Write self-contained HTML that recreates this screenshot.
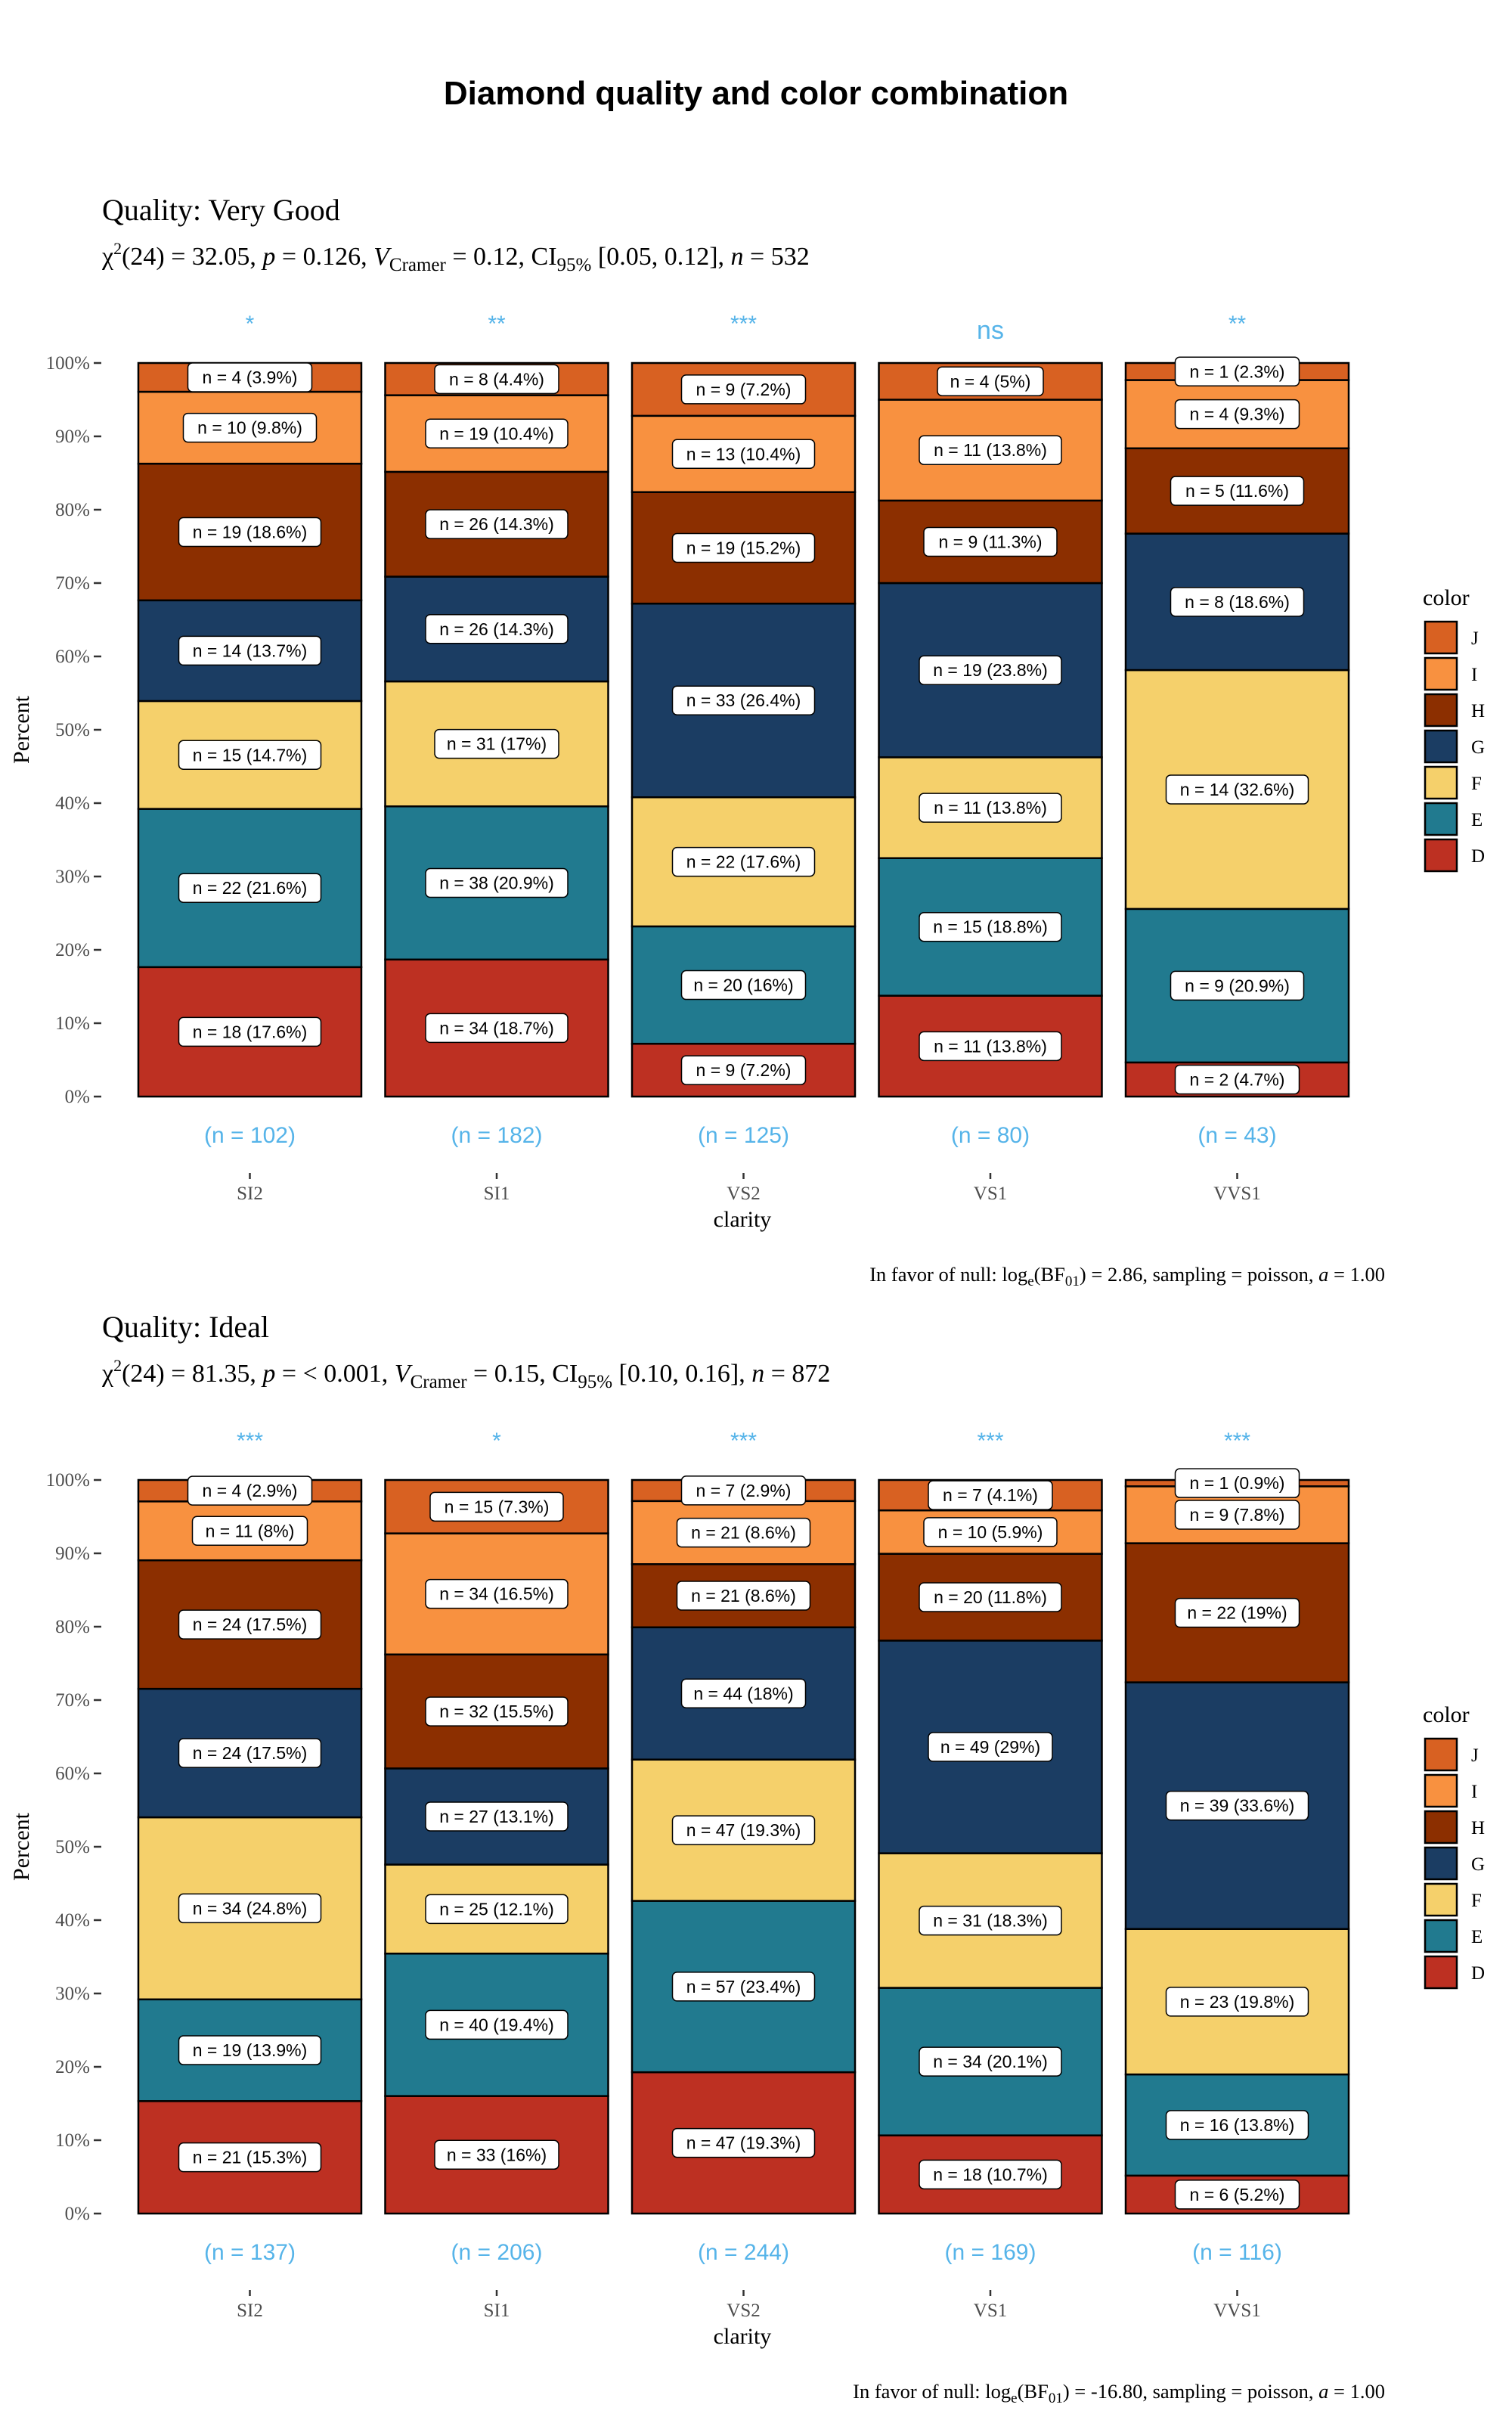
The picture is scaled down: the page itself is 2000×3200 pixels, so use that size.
<!DOCTYPE html>
<html><head><meta charset="utf-8">
<style>
html,body{margin:0;padding:0;background:#fff;}
svg{display:block;}
</style></head>
<body>
<svg id="chart" width="2000" height="3200" viewBox="0 0 2000 3200" xmlns="http://www.w3.org/2000/svg">
<text x="1000" y="138" text-anchor="middle" font-family="Liberation Sans, sans-serif" font-weight="bold" font-size="44">Diamond quality and color combination</text>
</svg>
<script>
// ---- data ----
const categories = ["SI2","SI1","VS2","VS1","VVS1"];
const colorLevels = ["D","E","F","G","H","I","J"]; // bottom to top
const fills = {J:"#d86122",I:"#f89140",H:"#8c2f00",G:"#1b3d63",F:"#f5d06b",E:"#217a8f",D:"#bd3022"};
// counts per clarity, order D,E,F,G,H,I,J
const vgD = [18,34,9,11,2];
const vgE = [22,38,20,15,9];
const vgF = [15,31,22,11,14];
const vgG = [14,26,33,19,8];
const vgH = [19,26,19,9,5];
const vgI = [10,19,13,11,4];
const vgJ = [4,8,9,4,1];
const idD = [21,33,47,18,6];
const idE = [19,40,57,34,16];
const idF = [34,25,47,31,23];
const idG = [24,27,44,49,39];
const idH = [24,32,21,20,22];
const idI = [11,34,21,10,9];
const idJ = [4,15,7,7,1];
const vgStars = ["*","**","***","ns","**"];
const idStars = ["***","*","***","***","***"];
const yTicks = [0,10,20,30,40,50,60,70,80,90,100];

const panels = [
  {name:"very-good", off:0, title:"Quality: Very Good", series:[vgD,vgE,vgF,vgG,vgH,vgI,vgJ], stars:vgStars,
   chi:"32.05", p:"0.126", v:"0.12", ci:"[0.05, 0.12]", n:"532", bf:"2.86"},
  {name:"ideal", off:1477, title:"Quality: Ideal", series:[idD,idE,idF,idG,idH,idI,idJ], stars:idStars,
   chi:"81.35", p:"< 0.001", v:"0.15", ci:"[0.10, 0.16]", n:"872", bf:"-16.80"}
];

const NS = "http://www.w3.org/2000/svg";
const svg = document.getElementById("chart");
function mk(tag, attrs, parent, text){
  const e = document.createElementNS(NS, tag);
  for (const k in attrs) e.setAttribute(k, attrs[k]);
  if (text !== undefined) e.textContent = text;
  (parent||svg).appendChild(e);
  return e;
}
const x0 = 183, pitch = 326.5, bw = 295;
function xCenter(i){ return x0 + bw/2 + i*pitch; }
function yScale(p, off){ return off + 1450 - p*9.7; }
function fmt(v){ let r = Math.round(v*10)/10; return (Number.isInteger(r)? r.toFixed(0) : r.toFixed(1)) + "%"; }

panels.forEach(P => {
  const g = mk("g", {});
  
  
  const off = P.off;
  const t = mk("text", {x:135, y:291+off, "font-family":"Liberation Serif, serif", "font-size":40}, g, P.title);
  
  
  const st = mk("text", {x:135, y:350+off, "font-family":"Liberation Serif, serif", "font-size":34}, g);
  
  
  st.innerHTML = 'χ<tspan dy="-14" font-size="22">2</tspan><tspan dy="14">(24) = ' + P.chi + ', </tspan><tspan font-style="italic">p</tspan> = ' + P.p +
    ', <tspan font-style="italic">V</tspan><tspan dy="8" font-size="25">Cramer</tspan><tspan dy="-8"> = ' + P.v + ', CI</tspan><tspan dy="8" font-size="25">95%</tspan><tspan dy="-8"> ' + P.ci + ', </tspan><tspan font-style="italic">n</tspan> = ' + P.n;

  // y axis
  yTicks.forEach(v => {
    const y = yScale(v, off);
    const tk = mk("line", {x1:124, x2:134, y1:y, y2:y, stroke:"#333", "stroke-width":2.5}, g);
    
    
    const tl = mk("text", {x:119, y:y+8, "text-anchor":"end", "font-family":"Liberation Serif, serif", "font-size":25, fill:"#4d4d4d"}, g, v + "%");
    
    
  });
  const yt = mk("text", {x:0, y:0, transform:"translate(38," + (965+off) + ") rotate(-90)", "text-anchor":"middle", "font-family":"Liberation Serif, serif", "font-size":30}, g, "Percent");
  
  

  categories.forEach((c, i) => {
    const tot = P.series.reduce((s, a) => s + a[i], 0);
    const cx = xCenter(i);
    let cum = 0;
    const labels = [];
    colorLevels.forEach((lv, k) => {
      const n = P.series[k][i];
      const pct = n / tot * 100;
      const yTop = yScale(cum + pct, off), yBot = yScale(cum, off);
      const r = mk("rect", {x:cx-bw/2, y:yTop, width:bw, height:yBot-yTop, fill:fills[lv], stroke:"#000", "stroke-width":2.5}, g);
      
      
      labels.push({y:(yTop+yBot)/2, txt:"n = " + n + " (" + fmt(pct) + ")", lv:lv});
      cum += pct;
    });
    labels.forEach(L => {
      const w = L.txt.length * 12 + 20;
      const bx = mk("rect", {x:cx-w/2, y:L.y-19, width:w, height:38, rx:6, fill:"#fff", stroke:"#000", "stroke-width":1.5}, g);
      
      
      const lt = mk("text", {x:cx, y:L.y+8, "text-anchor":"middle", "font-family":"Liberation Sans, sans-serif", "font-size":23}, g, L.txt);
      
      
    });
    const s = P.stars[i];
    const sm = mk("text", {x:cx, y:(s==="ns"?448:438)+off, "text-anchor":"middle", "font-family":"Liberation Sans, sans-serif", "font-size":s==="ns"?34:30, fill:"#56B4E9"}, g, s);
    
    
    const nl = mk("text", {x:cx, y:1511+off, "text-anchor":"middle", "font-family":"Liberation Sans, sans-serif", "font-size":30, fill:"#56B4E9"}, g, "(n = " + tot + ")");
    
    
    const xt = mk("line", {x1:cx, x2:cx, y1:1551+off, y2:1559+off, stroke:"#333", "stroke-width":2.5}, g);
    
    
    const xl = mk("text", {x:cx, y:1586+off, "text-anchor":"middle", "font-family":"Liberation Serif, serif", "font-size":25, fill:"#4d4d4d"}, g, c);
    
    
  });
  const xa = mk("text", {x:982, y:1622+off, "text-anchor":"middle", "font-family":"Liberation Serif, serif", "font-size":30}, g, "clarity");
  
  
  const cap = mk("text", {x:1832, y:1694+off, "text-anchor":"end", "font-family":"Liberation Serif, serif", "font-size":26.5}, g);
  
  
  cap.innerHTML = 'In favor of null: log<tspan dy="6" font-size="19">e</tspan><tspan dy="-6">(BF</tspan><tspan dy="6" font-size="19">01</tspan><tspan dy="-6">) = ' + P.bf + ', sampling = poisson, </tspan><tspan font-style="italic">a</tspan> = 1.00';

  // legend
  const lt = mk("text", {x:1882, y:800+off, "font-family":"Liberation Serif, serif", "font-size":30}, g, "color");
  
  
  ["J","I","H","G","F","E","D"].forEach((lv, k) => {
    const y = 822 + k*48 + off;
    const lr = mk("rect", {x:1885, y:y, width:42, height:42, fill:fills[lv], stroke:"#000", "stroke-width":2.5}, g);
    
    
    const ll = mk("text", {x:1946, y:y+30, "font-family":"Liberation Serif, serif", "font-size":25}, g, lv);
    
    
  });
});
</script>
</body></html>
